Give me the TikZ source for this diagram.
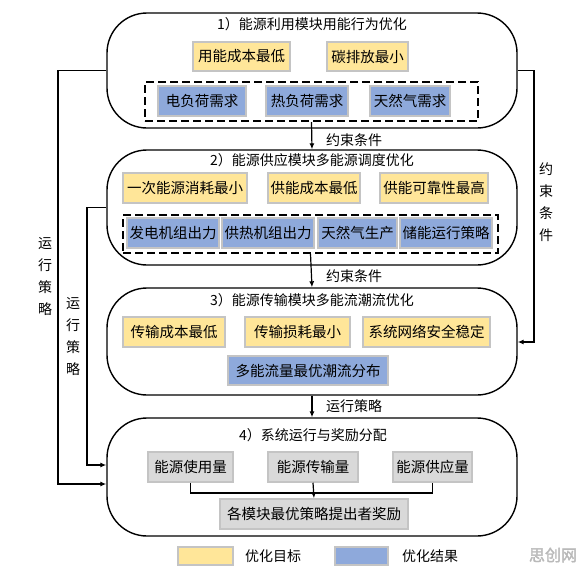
\documentclass[tikz,border=0pt]{standalone}
\usepackage{fontspec}
\setmainfont{Noto Sans CJK SC}
\newfontfamily\wmfont[FakeBold=2]{Noto Sans CJK SC}
\usetikzlibrary{arrows.meta}
\definecolor{ygoal}{HTML}{FFE699}
\definecolor{bres}{HTML}{8EA9DB}
\definecolor{gbox}{HTML}{D9D9D9}
\definecolor{bedge}{HTML}{C4C4C4}
\tikzset{
  module/.style={draw=black, line width=1.4pt, rounded corners=40pt, minimum width=410pt},
  title/.style={font=\fontsize{14}{16}\selectfont, inner sep=0pt},
  cbox/.style={draw=bedge, line width=1.5pt, minimum height=30pt, inner sep=1pt, font=\fontsize{14.5}{16}\selectfont},
  ybox/.style={cbox, fill=ygoal},
  bbox/.style={cbox, fill=bres},
  gbx/.style={cbox, fill=gbox},
  dbox/.style={draw=black, line width=2pt, dash pattern=on 8pt off 4pt},
  conn/.style={draw=black, line width=1.2pt},
  arr/.style={conn, -{Latex[length=6pt,width=5pt]}},
  lab/.style={font=\fontsize{14}{16}\selectfont, inner sep=0pt},
  vlab/.style={font=\fontsize{14}{22}\selectfont, align=center, inner sep=0pt}
}
\begin{document}
\begin{tikzpicture}[x=1pt,y=-1pt]
\useasboundingbox (0,0) rectangle (583,571);
% modules
\node[module, minimum height=115pt] (m1) at (312,70.5) {};
\node[module, minimum height=115pt] (m2) at (312,207.5) {};
\node[module, minimum height=107pt] (m3) at (312,341.5) {};
\node[module, minimum height=118pt] (m4) at (312,477) {};
% module 1
\node[title] (t1) at (312,24) {1）能源利用模块用能行为优化};
\node[ybox, minimum width=97pt, minimum height=29pt] (y11) at (241.5,56.5) {用能成本最低};
\node[ybox, minimum width=81pt, minimum height=29pt] (y12) at (367.5,56.5) {碳排放最小};
\node[dbox, minimum width=333pt, minimum height=39pt] (d1) at (311.5,101.5) {};
\node[bbox, minimum width=88pt] (b11) at (202,101) {电负荷需求};
\node[bbox, minimum width=82pt] (b12) at (307,101) {热负荷需求};
\node[bbox, minimum width=80pt] (b13) at (410,101) {天然气需求};
% module 2
\node[title] (t2) at (312,160) {2）能源供应模块多能源调度优化};
\node[ybox, minimum width=124pt] (y21) at (185,188) {一次能源消耗最小};
\node[ybox, minimum width=92pt] (y22) at (314,188) {供能成本最低};
\node[ybox, minimum width=108pt] (y23) at (434,188) {供能可靠性最高};
\node[dbox, minimum width=375pt, minimum height=38pt] (d2) at (310.5,234) {};
\node[bbox, minimum width=92pt] (b21) at (173,233) {发电机组出力};
\node[bbox, minimum width=92pt] (b22) at (268,233) {供热机组出力};
\node[bbox, minimum width=79pt] (b23) at (357.5,233) {天然气生产};
\node[bbox, minimum width=92pt] (b24) at (446,233) {储能运行策略};
% module 3
\node[title] (t3) at (312,300) {3）能源传输模块多能流潮流优化};
\node[ybox, minimum width=102pt] (y31) at (174,332) {传输成本最低};
\node[ybox, minimum width=105pt] (y32) at (297.5,332) {传输损耗最小};
\node[ybox, minimum width=127pt] (y33) at (426.5,332) {系统网络安全稳定};
\node[bbox, minimum width=160pt, minimum height=29pt] (b31) at (308,370.5) {多能流量最优潮流分布};
% module 4
\node[title] (t4) at (313,435) {4）系统运行与奖励分配};
\node[gbx, minimum width=85pt] (g1) at (190.5,467) {能源使用量};
\node[gbx, minimum width=90pt] (g2) at (313,467) {能源传输量};
\node[gbx, minimum width=79pt] (g3) at (432.5,467) {能源供应量};
\node[gbx, minimum width=188pt] (g4) at (314,514) {各模块最优策略提出者奖励};
\coordinate (jn) at (313,493);
\draw[conn] (g1.south) |- (jn) -| (g3.south);
\draw[arr] (g2.south) -- (g4.north);
% vertical arrows
\draw[arr] (d1.south) -- (m2.north);
\node[lab, anchor=west] (l1) at (326,140) {约束条件};
\draw[arr] (d2.south) -- (m3.north);
\node[lab, anchor=west] (l2) at (326,276) {约束条件};
\draw[arr] (m3.south) -- (m4.north);
\node[lab, anchor=west] (l3) at (326,406) {运行策略};
% left connectors
\coordinate (o1) at (58,484);
\coordinate (o2) at (87,465);
\draw[arr] (m1.west) -| (o1) -- (o1 -| m4.west);
\draw[arr] (m2.west) -| (o2) -- (o2 -| m4.west);
\node[vlab] (vl1) at (45,277) {运\\行\\策\\略};
\node[vlab] (vl2) at (73,337) {运\\行\\策\\略};
% right connector
\coordinate (r1) at (534,342);
\draw[arr] (m1.east) -| (r1) -- (r1 -| m3.east);
\node[vlab] (vr1) at (546,202) {约\\束\\条\\件};
% legend
\node[draw=bedge, line width=1.5pt, fill=ygoal, minimum width=55pt, minimum height=18pt, inner sep=0pt] (lg1) at (205.5,556) {};
\node[lab, anchor=west] (lt1) at (245,556) {优化目标};
\node[draw=bedge, line width=1.5pt, fill=bres, minimum width=53pt, minimum height=18pt, inner sep=0pt] (lg2) at (361.5,556) {};
\node[lab, anchor=west] (lt2) at (402,556) {优化结果};
\node[font=\wmfont\fontsize{16}{18}\selectfont, text=gray!55, inner sep=0pt] (wm) at (553,555) {思创网};
\end{tikzpicture}
\end{document}
